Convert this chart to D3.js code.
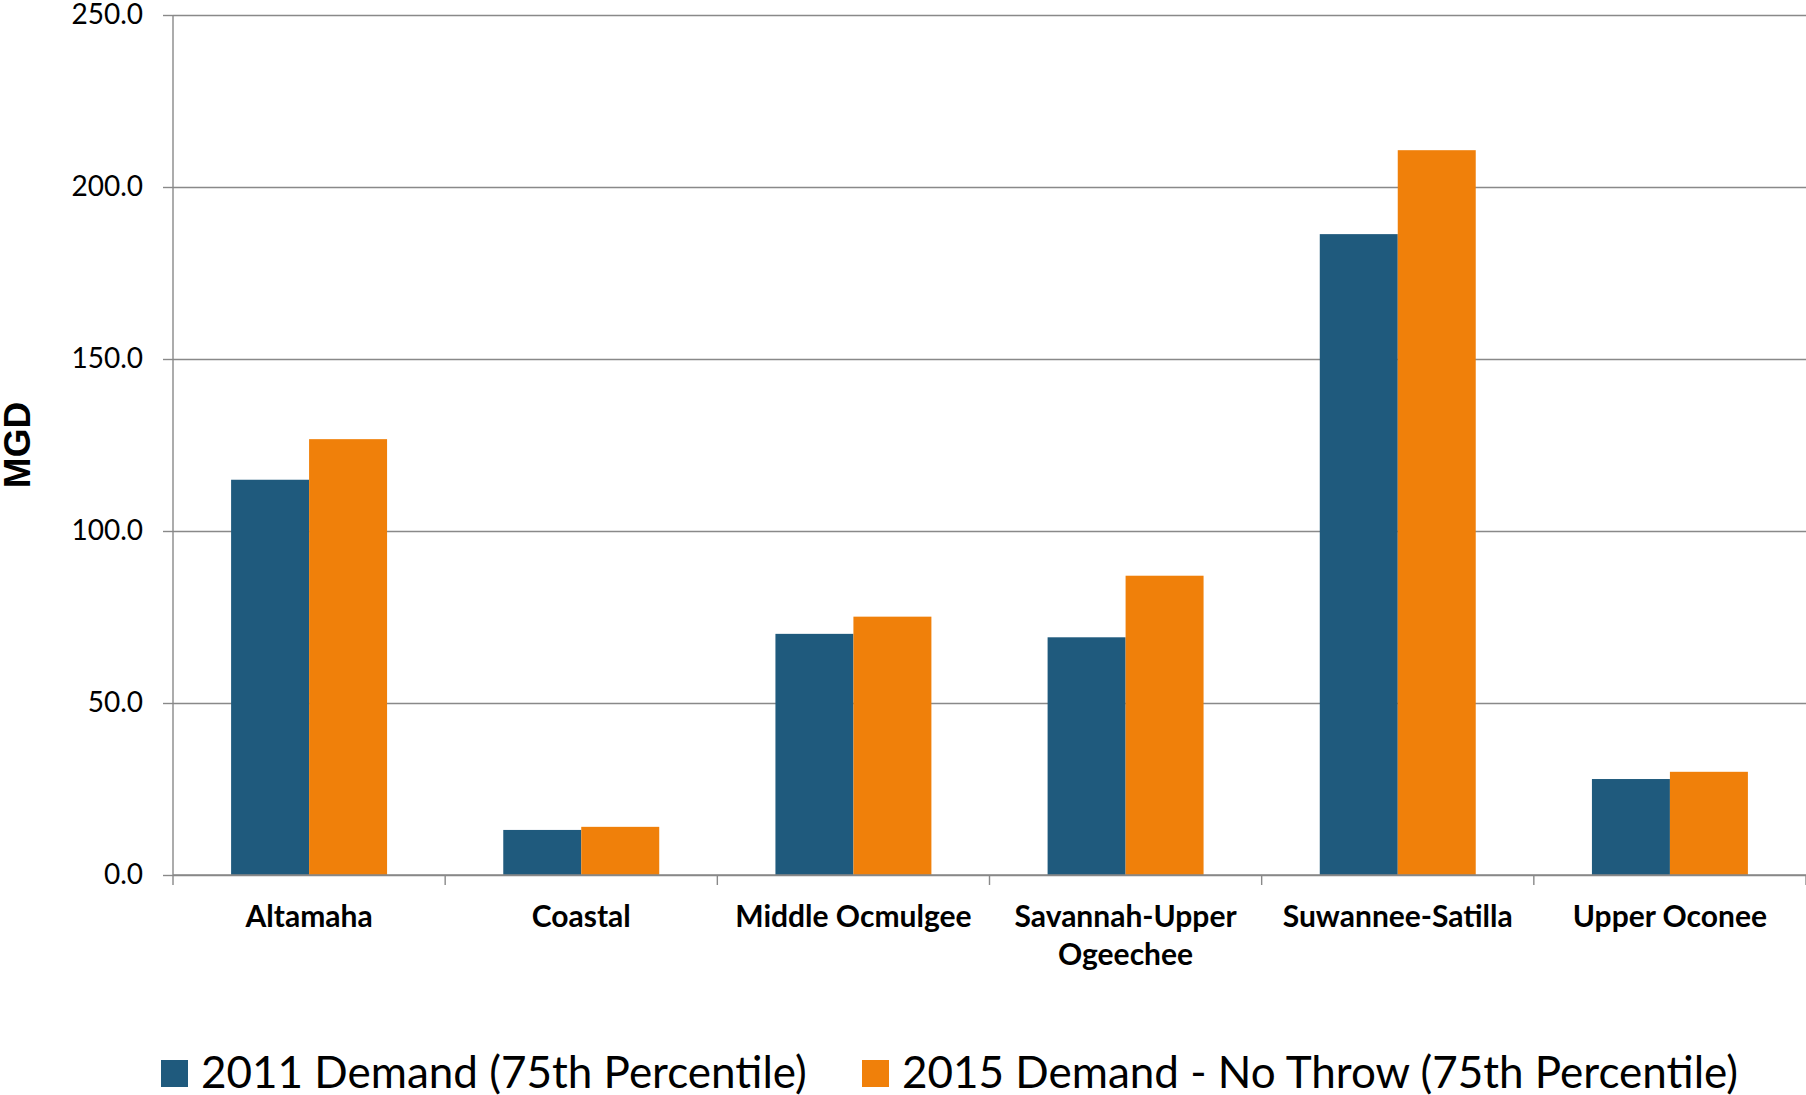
<!DOCTYPE html>
<html>
<head>
<meta charset="utf-8">
<script src="https://cdn.jsdelivr.net/npm/d3@7"></script>
<style>
  body { margin: 0; background: #fff; }
  text { font-family: Lato, "Open Sans", sans-serif; fill: #000; }
</style>
</head>
<body>
<div id="container"></div>
<script>
/* CONSTANTS AND GLOBALS */
const width = 1806;
const height = 1095;
const margin = { top: 15, right: 0, bottom: 220, left: 173 };

/* DATA */
const categories = ["Altamaha", "Coastal", "Middle Ocmulgee", "Savannah-Upper Ogeechee", "Suwannee-Satilla", "Upper Oconee"];
const categoryLines = [["Altamaha"], ["Coastal"], ["Middle Ocmulgee"], ["Savannah-Upper", "Ogeechee"], ["Suwannee-Satilla"], ["Upper Oconee"]];
const seriesNames = ["2011 Demand (75th Percentile)", "2015 Demand - No Throw (75th Percentile)"];
const demand2011 = [114.9, 13.1, 70.1, 69.1, 186.3, 27.9];
const demand2015 = [126.7, 14.0, 75.1, 87.0, 210.7, 30.0];
const yTicks = [0, 50, 100, 150, 200, 250];
const colors = ["#1f5a7d", "#f0800a"];

const rows = categories.map((c, i) => ({ cat: c, values: [demand2011[i], demand2015[i]] }));

/* SCALES */
const xScale = d3.scaleBand()
  .domain(categories)
  .range([margin.left, width - margin.right])
  .paddingInner(0)
  .paddingOuter(0);

const xInner = d3.scaleBand()
  .domain([0, 1])
  .range([0, xScale.bandwidth()])
  .paddingInner(0)
  .paddingOuter(0.745);

const yScale = d3.scaleLinear()
  .domain([0, 250])
  .range([height - margin.bottom, margin.top]);

/* SVG */
const svg = d3.select("#container")
  .append("svg")
  .attr("width", width)
  .attr("height", height);

// gridlines
svg.append("g")
  .attr("transform", `translate(${margin.left}, 0)`)
  .call(d3.axisLeft(yScale).tickValues(yTicks).tickSize(-(width - margin.left)).tickFormat(""))
  .call(g => g.select(".domain").remove())
  .call(g => g.selectAll("line").attr("stroke", "#898989").attr("stroke-width", 1.4));

// bars
svg.append("g")
  .selectAll("g")
  .data(rows)
  .join("g")
  .attr("transform", d => `translate(${xScale(d.cat)}, 0)`)
  .selectAll("rect")
  .data(d => d.values.map((v, i) => ({ v, i })))
  .join("rect")
  .attr("x", d => xInner(d.i))
  .attr("width", xInner.bandwidth())
  .attr("y", d => yScale(d.v))
  .attr("height", d => yScale(0) - yScale(d.v))
  .attr("fill", d => colors[d.i]);

// y axis
svg.append("g")
  .attr("transform", `translate(${margin.left}, 0)`)
  .call(d3.axisLeft(yScale).tickValues(yTicks).tickSize(10).tickPadding(20).tickFormat(d3.format(".1f")))
  .call(g => g.select(".domain").attr("stroke", "#898989").attr("stroke-width", 1.4).attr("d", `M0,${yScale(250)}V${yScale(0)}`))
  .call(g => g.selectAll("line").attr("stroke", "#898989").attr("stroke-width", 1.4))
  .call(g => g.selectAll("text").style("font-size", "28px").attr("font-family", "Lato"));

// x axis line + boundary ticks
const x0 = yScale(0);
svg.append("line")
  .attr("x1", margin.left).attr("x2", width)
  .attr("y1", x0).attr("y2", x0)
  .attr("stroke", "#898989").attr("stroke-width", 1.4);

svg.selectAll(".bound")
  .data(categories.map(c => xScale(c)).concat([xScale.range()[1]]))
  .join("line")
  .attr("class", "bound")
  .attr("x1", d => d).attr("x2", d => d)
  .attr("y1", x0).attr("y2", x0 + 10)
  .attr("stroke", "#898989").attr("stroke-width", 1.4);

// category labels
svg.selectAll(".cat")
  .data(categories)
  .join("text")
  .attr("class", "cat")
  .attr("text-anchor", "middle")
  .style("font-size", "30px")
  .style("font-weight", "bold")
  .each(function (d, i) {
    d3.select(this).selectAll("tspan")
      .data(categoryLines[i])
      .join("tspan")
      .attr("x", xScale(d) + xScale.bandwidth() / 2)
      .attr("y", (t, j) => 927 + j * 38)
      .text(t => t);
  });

// y axis title
svg.append("text")
  .attr("transform", "rotate(-90)")
  .attr("x", -445)
  .attr("y", 30)
  .attr("text-anchor", "middle")
  .style("font-family", "'Liberation Sans', Arial, sans-serif")
  .style("font-size", "37px")
  .style("font-weight", "bold")
  .text("MGD");

// legend
const legendX = [161, 862];
const legend = svg.selectAll(".legend")
  .data(seriesNames)
  .join("g")
  .attr("class", "legend")
  .attr("transform", (d, i) => `translate(${legendX[i]}, 1060)`);

legend.append("rect")
  .attr("width", 27)
  .attr("height", 27)
  .attr("fill", (d, i) => colors[i]);

legend.append("text")
  .attr("x", 40)
  .attr("y", 28)
  .style("font-size", "44px")
  .text(d => d);
</script>
</body>
</html>
